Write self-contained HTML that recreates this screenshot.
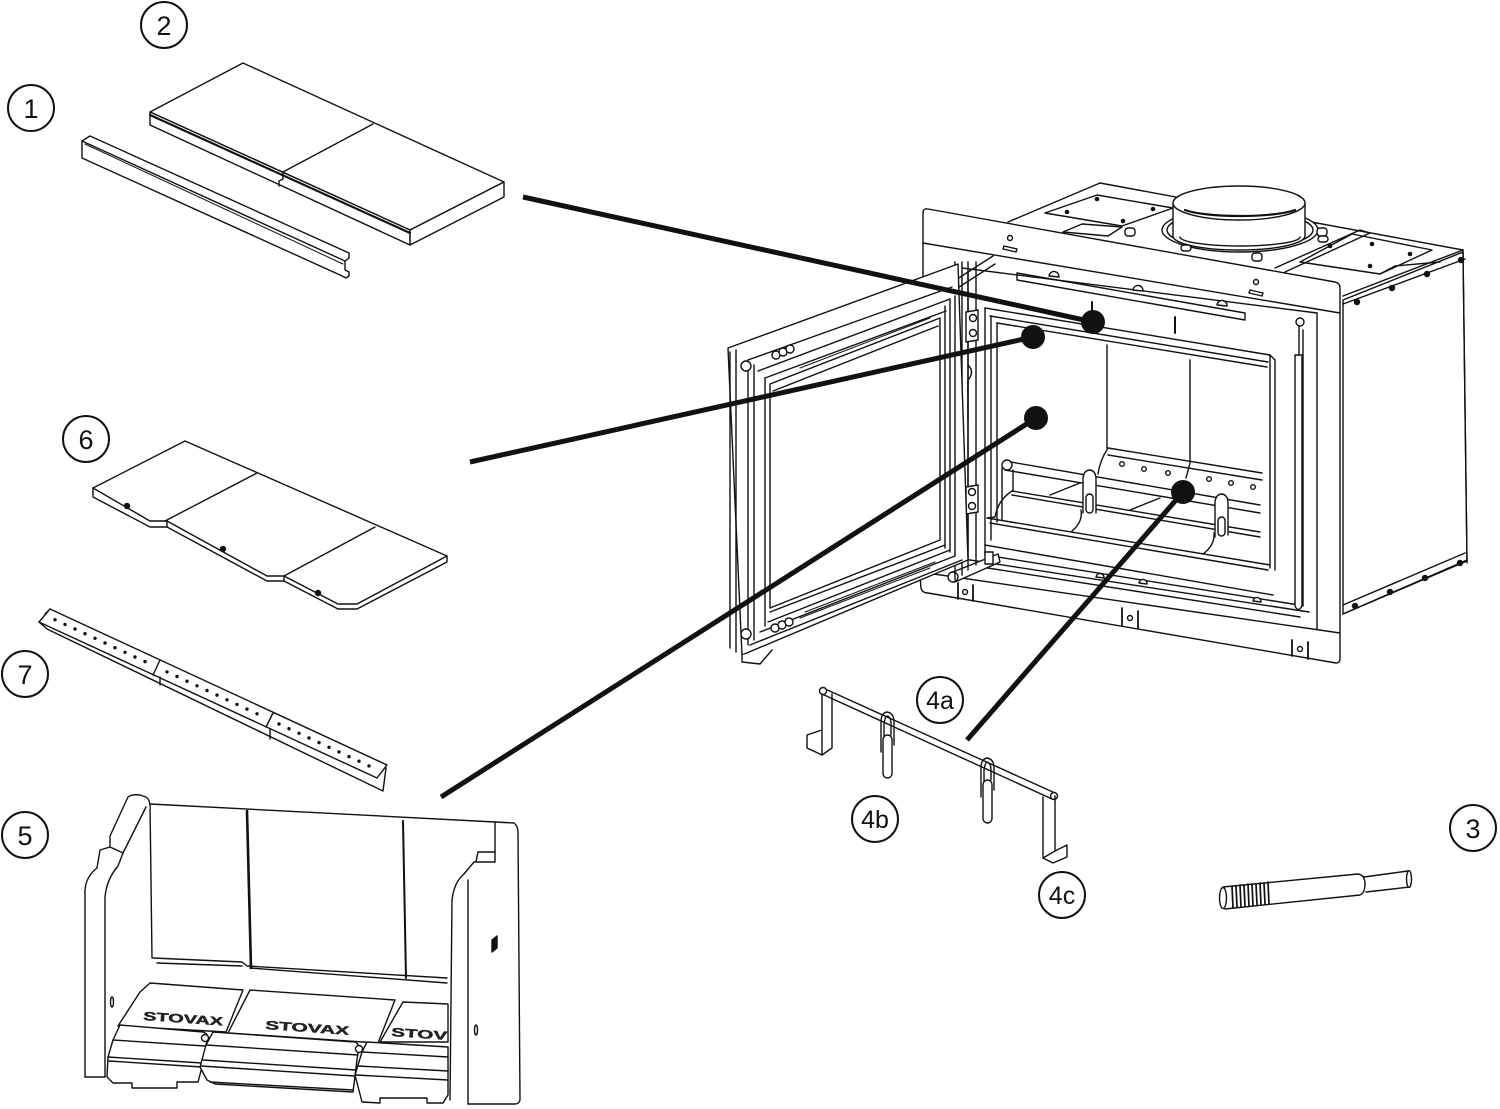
<!DOCTYPE html>
<html><head><meta charset="utf-8">
<style>html,body{margin:0;padding:0;background:#fff}svg{display:block}</style>
</head>
<body>
<svg width="1500" height="1109" viewBox="0 0 1500 1109" xmlns="http://www.w3.org/2000/svg">
<rect width="1500" height="1109" fill="#fff"/>
<g fill="none" stroke="#111" stroke-width="1.4" stroke-linejoin="round" stroke-linecap="round">

<!-- ===== Part 2 : board ===== -->
<polygon points="150,112 243,63 504,182 410,230" fill="#fff"/>
<polygon points="150,112 410,230 410,245 150,125" fill="#fff"/>
<polygon points="410,230 504,182 504,197 410,245" fill="#fff"/>
<line x1="150" y1="115" x2="410" y2="233" stroke-width="2.2"/>
<line x1="373" y1="124" x2="283" y2="172"/>
<path d="M283,172 L283,179 L279,181 L279,186"/>

<!-- ===== Part 1 : channel ===== -->
<path d="M82,141 L90,136 L349,253 L349,258" fill="#fff"/>
<path d="M82,141 L345,261 L349,258"/>
<path d="M85,144 L343,264" stroke-width="1"/>
<path d="M82,141 L82,158 L340,275"/>
<path d="M345,261 L345,270 L349,272 L349,276 L346,278 L340,275"/>

<!-- ===== Part 6 : baffle plates ===== -->
<polygon points="93,488 185,441 447,556 357,604 338,604 284,576 267,576 167,521 150,521" fill="#fff"/>
<path d="M93,488 L93,497 L150,527 L167,527 L167,521"/>
<path d="M167,527 L267,581 L284,581 L284,576"/>
<path d="M284,581 L338,609 L357,609 L447,562 L447,556"/>
<line x1="257" y1="473" x2="165" y2="521"/>
<line x1="375" y1="527" x2="284" y2="576"/>
<circle cx="127" cy="506" r="2.5" fill="#111"/>
<circle cx="223" cy="549" r="2.5" fill="#111"/>
<circle cx="318" cy="593" r="2.5" fill="#111"/>

<!-- ===== Part 7 : strip ===== -->
<polygon points="50,609 387,765 377,778 39,622" fill="#fff"/>
<path d="M39,622 L47,629 L383,791 L386,768"/>
<path d="M45,614 L50,609" />
<line x1="160" y1="660" x2="153" y2="675"/>
<line x1="273" y1="713" x2="266" y2="727"/>
<line x1="160" y1="677" x2="160" y2="685"/>
<line x1="270" y1="729" x2="270" y2="739"/>
<g fill="#111" stroke="none">
<circle cx="55" cy="619.7" r="1.7"/><circle cx="65" cy="624.4" r="1.7"/><circle cx="75" cy="629" r="1.7"/><circle cx="85" cy="633.7" r="1.7"/><circle cx="95" cy="638.3" r="1.7"/><circle cx="105" cy="643" r="1.7"/><circle cx="115" cy="647.7" r="1.7"/><circle cx="125" cy="652.3" r="1.7"/><circle cx="135" cy="657" r="1.7"/><circle cx="145" cy="661.6" r="1.7"/>
<circle cx="167" cy="671.9" r="1.7"/><circle cx="177" cy="676.5" r="1.7"/><circle cx="187" cy="681.2" r="1.7"/><circle cx="197" cy="685.8" r="1.7"/><circle cx="207" cy="690.5" r="1.7"/><circle cx="217" cy="695.1" r="1.7"/><circle cx="227" cy="699.8" r="1.7"/><circle cx="237" cy="704.4" r="1.7"/><circle cx="247" cy="709.1" r="1.7"/><circle cx="257" cy="713.8" r="1.7"/>
<circle cx="279" cy="724" r="1.7"/><circle cx="289" cy="728.7" r="1.7"/><circle cx="299" cy="733.3" r="1.7"/><circle cx="309" cy="738" r="1.7"/><circle cx="319" cy="742.6" r="1.7"/><circle cx="329" cy="747.3" r="1.7"/><circle cx="339" cy="751.9" r="1.7"/><circle cx="349" cy="756.6" r="1.7"/><circle cx="359" cy="761.2" r="1.7"/><circle cx="369" cy="765.9" r="1.7"/>
</g>

<!-- ===== Part 5 : firebrick set ===== -->
<path d="M150,804 L495,822"/>
<path d="M150,804 L152,958"/>
<line x1="247" y1="811" x2="251" y2="968" stroke-width="2.6"/>
<line x1="403" y1="821" x2="406" y2="978" stroke-width="2"/>
<path d="M153,958 L242,962 L247,966 L447,978"/>
<path d="M157,963 L242,966 M250,968 L447,983"/>
<!-- left side panel -->
<path d="M85,1077 L85,895 Q84,878 97,868 L100,850 L110,847 L110,836 L128,797 Q132,794 140,795 L146,797 Q150,800 150,806" fill="#fff"/>
<path d="M105,1077 L105,898 Q106,880 118,866 L123,853 L110,847"/>
<path d="M123,853 L146,807"/>
<path d="M85,1077 L105,1077"/>
<ellipse cx="112" cy="1002" rx="1.5" ry="5"/>
<!-- right side panel -->
<path d="M495,822 L514,823 Q518,826 518,832 L520,1100 Q519,1104 515,1104 L468,1104" fill="none"/>
<path d="M450,1100 L452,900 Q454,882 464,874 L474,862 L495,862 L495,822"/>
<path d="M468,880 L468,1104"/>
<path d="M476,862 L478,852 L495,852"/>
<ellipse cx="476" cy="1030" rx="1.5" ry="5"/>
<path d="M492,940 L497,936 L497,948 L492,952 Z" fill="#111"/>
<!-- hearth bricks -->
<path d="M150,983 L243,990 L226,1032 L118,1026 L140,992 Z" fill="#fff"/>
<polygon points="250,990 395,1000 378,1043 228,1033" fill="#fff"/>
<polygon points="403,1002 448,1004 448,1042 380,1042" fill="#fff"/>
<!-- front bricks -->
<path d="M120,1025 L203,1032 Q209,1034 207,1040 L202,1067 L198,1082 L177,1082 L177,1088 L132,1088 L132,1083 L113,1083 L107,1077 L108,1057 L113,1040 Z" fill="#fff"/>
<path d="M113,1040 L205,1046 M108,1057 L202,1063 M109,1061 L202,1067"/>
<path d="M213,1032 L355,1042 Q361,1045 358,1052 L353,1092 L215,1084 L207,1080 L200,1067 L206,1045 Z" fill="#fff"/>
<path d="M206,1045 L358,1055 M203,1060 L356,1070 M201,1066 L355,1076 M210,1082 L353,1090"/>
<path d="M367,1042 L448,1047 L448,1095 L443,1103 L427,1103 L427,1098 L380,1098 L380,1103 L362,1102 L355,1075 L362,1052 Z" fill="#fff"/>
<path d="M362,1052 L448,1057 M358,1066 L448,1071 M356,1075 L448,1080"/>
<circle cx="205" cy="1038" r="3.5" fill="#fff"/>
<circle cx="359" cy="1049" r="3.5" fill="#fff"/>

<!-- ===== Part 4 : log retainer ===== -->
<path d="M823,688 L1055,793"/>
<path d="M822,694 L1052,799"/>
<circle cx="823" cy="691" r="3.5" fill="#fff"/>
<circle cx="1054" cy="796" r="3.5" fill="#fff"/>
<path d="M822,730 L807,735 L807,748 L822,755 L832,748 L832,694"/>
<path d="M822,694 L822,755"/>
<path d="M1043,797 L1043,858 L1053,863 L1067,857 L1067,845 L1055,851 L1055,796"/>
<path d="M1043,858 L1055,851"/>
<path d="M881,752 L881,722 Q881,713 887,712 Q894,713 894,722 L894,745"/>
<path d="M884,748 L884,724 Q885,717 887,716 Q891,717 891,724 L891,735"/>
<rect x="883" y="735" width="9" height="43" rx="4.5" fill="#fff"/>
<path d="M981,797 L981,768 Q981,759 987,758 Q994,759 994,768 L994,790"/>
<path d="M984,792 L984,770 Q985,763 987,762 Q991,763 991,770 L991,780"/>
<rect x="983" y="780" width="9" height="43" rx="4.5" fill="#fff"/>

<!-- ===== Part 3 : tool ===== -->
<path d="M1223,887 L1358,874 Q1365,875 1365,884 Q1365,893 1360,895 L1225,909" fill="#fff"/>
<ellipse cx="1223" cy="898" rx="3.5" ry="10.5" fill="#fff"/>
<path d="M1364,877 L1408,871 L1410,887 L1366,892"/>
<ellipse cx="1409" cy="879" rx="2.5" ry="8.3" fill="#fff"/>
<g stroke-width="1.7">
<path d="M1232,886 L1233,908 M1236,886 L1237,907 M1240,885 L1241,907 M1244,885 L1245,906 M1248,884 L1249,906 M1252,884 L1253,906 M1256,884 L1257,905 M1260,883 L1261,905 M1264,883 L1265,904 M1268,882 L1269,904"/>
</g>

<!-- ===== STOVE ===== -->
<polygon points="1343,300 1463,252 1467,561 1343,614" fill="#fff"/>
<path d="M1343,296 L1463,250 M1343,304 L1465,259 M1343,605 L1465,553 M1343,614 L1467,560"/>
<path d="M1463,250 L1467,563"/>
<g fill="#111" stroke="none">
<circle cx="1357" cy="302" r="3.2"/><circle cx="1392" cy="288" r="3.2"/><circle cx="1427" cy="274" r="3.2"/><circle cx="1461" cy="260" r="3.2"/>
<circle cx="1355" cy="606" r="3.2"/><circle cx="1390" cy="592" r="3.2"/><circle cx="1425" cy="578" r="3.2"/><circle cx="1460" cy="563" r="3.2"/>
</g>
<path d="M1008,222 L1100,183 L1463,250"/>
<polygon points="1045,213 1097,195 1173,208 1122,226" />
<polygon points="1063,232 1082,224 1122,227 1108,236"/>
<g fill="#111" stroke="none">
<circle cx="1097" cy="199" r="2.3"/><circle cx="1067" cy="212" r="2.3"/><circle cx="1153" cy="209" r="2.3"/><circle cx="1123" cy="221" r="2.3"/>
<circle cx="1330" cy="246" r="2.3"/><circle cx="1372" cy="244" r="2.3"/><circle cx="1410" cy="254" r="2.3"/><circle cx="1370" cy="266" r="2.3"/>
</g>
<polygon points="1300,262 1352,234 1432,250 1380,274"/>
<path d="M1275,268 L1360,230 L1370,233 L1285,272"/>
<path d="M1380,274 L1395,266 L1440,262"/>
<ellipse cx="1240" cy="230" rx="78" ry="22" fill="#fff"/>
<ellipse cx="1240" cy="230" rx="73" ry="19"/>
<path d="M1173,203 L1173,236 A66,14 0 0 0 1305,236 L1305,203" fill="#fff"/>
<ellipse cx="1239" cy="203" rx="66" ry="17" fill="#fff"/>
<path d="M1185,210 A60,10 0 0 0 1295,210" stroke-width="2.2"/>
<path d="M1180,237 A60,9 0 0 0 1300,237"/>
<g fill="#fff">
<rect x="1125" y="228" width="10" height="8" rx="3"/>
<rect x="1252" y="253" width="10" height="8" rx="3"/>
<rect x="1317" y="228" width="10" height="8" rx="3"/>
<rect x="1318" y="236" width="10" height="6" rx="3"/>
<rect x="1181" y="245" width="10" height="6" rx="3"/>
</g>
<path d="M923,213 Q923,208 928,209 L1335,282 Q1340,283 1340,288 L1340,313 L923,243 Z" fill="#fff"/>
<circle cx="1010" cy="238" r="2.5"/>
<path d="M1004,246 L1017,249 L1016,252 L1003,249 Z"/>
<circle cx="1256" cy="282" r="2.5"/>
<path d="M1250,290 L1263,293 L1262,296 L1249,293 Z"/>
<path d="M923,243 L923,290"/>
<path d="M962,268 L1317,313"/>
<path d="M968,272 L968,560"/>
<path d="M1017,273 L1245,313 M1017,280 L1245,320 M1017,273 L1017,280 M1245,313 L1245,320"/>
<path d="M1049,276 A5,5 0 0 1 1059,277 Z M1133,290 A5,5 0 0 1 1143,291 Z M1217,305 A5,5 0 0 1 1227,306 Z" fill="#fff"/>
<circle cx="1300" cy="322" r="4"/>
<!-- firebox frame -->
<path d="M985,308 L1270,355 L1275,360"/>
<path d="M990,316 L1268,362"/>
<path d="M997,323 L1267,367"/>
<path d="M985,308 L985,555"/>
<path d="M991,316 L991,540"/>
<path d="M997,323 L997,522"/>
<path d="M1270,355 L1270,568 M1275,360 L1275,570"/>
<path d="M985,545 L1273,595"/>
<path d="M985,555 L1299,605"/>
<path d="M1299,327 L1299,603 M1303,330 L1303,606"/>
<path d="M1317,313 L1317,632 M1340,313 L1340,633"/>
<path d="M1295,355 L1295,606 Q1298,613 1302,606 L1302,355 Z" fill="#fff"/>
<path d="M1092,302 L1092,313 M1175,317 L1175,333" stroke-width="2"/>
<!-- firebox interior -->
<path d="M1107,345 L1107,448 M1190,360 L1190,463 L1186,478"/>
<path d="M1108,448 Q1100,460 1098,474"/>
<path d="M1108,448 L1262,473 M1108,455 L1262,480"/>
<g>
<circle cx="1122" cy="464" r="2.3"/><circle cx="1144" cy="469" r="2.3"/><circle cx="1168" cy="473" r="2.3"/>
<circle cx="1209" cy="479" r="2.3"/><circle cx="1231" cy="483" r="2.3"/><circle cx="1253" cy="487" r="2.3"/>
</g>
<!-- grate front face -->
<path d="M1012,491 Q998,500 995,517 L987,518 L1270,565 M990,523 L1268,570"/>
<path d="M1012,491 L1260,532 M1012,495 L1260,537"/>
<path d="M1050,495 L1080,483 M1130,510 L1160,498"/>
<path d="M1081,510 Q1083,522 1072,531 M1214,533 Q1215,545 1203,554"/>
<!-- retainer bar -->
<path d="M1005,461 L1260,505 M1005,470 L1260,513" fill="none"/>
<path d="M1002,468 L1002,520 M1013,470 L1013,491"/>
<circle cx="1007" cy="465" r="5" fill="#fff"/>
<path d="M1083,513 L1083,478 Q1084,470 1090,470 Q1096,471 1096,479 L1096,513" fill="#fff"/>
<rect x="1086" y="494" width="7" height="19" rx="3.5" fill="#fff"/>
<path d="M1215,537 L1215,502 Q1216,494 1222,494 Q1228,495 1228,503 L1228,535" fill="#fff"/>
<rect x="1218" y="517" width="7" height="19" rx="3.5" fill="#fff"/>
<!-- lower rail -->
<path d="M957,558 L1309,612"/>
<path d="M975,566 L1300,617"/>
<path d="M1096,577 A4,4 0 0 1 1104,578 Z M1139,583 A4,4 0 0 1 1147,584 Z M1253,601 A4,4 0 0 1 1261,602 Z" fill="#fff"/>
<!-- bottom plate -->
<path d="M920,572 L1340,633 L1340,659 Q1340,663 1336,663 L928,593 Q922,593 921,588 L920,576 Z" fill="#fff"/>
<path d="M958,583 L958,599 M973,585 L973,601" stroke-width="1.8"/>
<circle cx="965" cy="592" r="2.5"/>
<path d="M1122,608 L1122,625 M1138,611 L1138,628" stroke-width="1.8"/>
<circle cx="1130" cy="618" r="2.5"/>
<path d="M1292,640 L1292,656 M1308,642 L1308,659" stroke-width="1.8"/>
<circle cx="1300" cy="649" r="2.5"/>
<path d="M953,572 L998,554 L1000,562 L955,582" fill="#fff"/>
<circle cx="953" cy="577" r="5" fill="#fff"/>
<rect x="985" y="552" width="8" height="12" fill="#fff"/>
<!-- hinge column -->
<path d="M955,262 L955,580 M962,262 L962,575 M968,262 L968,570 M976,262 L976,565" fill="none"/>
<path d="M966,312 L978,310 L978,340 L966,342 Z M966,487 L978,485 L978,512 L966,514 Z" fill="#fff"/>
<circle cx="973" cy="318" r="3.5"/><circle cx="973" cy="333" r="3.5"/>
<circle cx="972" cy="492" r="3.5"/><circle cx="972" cy="506" r="3.5"/>
<path d="M968,365 Q975,372 968,380 L968,420"/>
<path d="M940,290 L993,256 M945,296 L995,264" />
<circle cx="950" cy="286" r="5" fill="#fff"/>

<!-- ===== DOOR ===== -->
<polygon points="728,348 958,264 968,560 742,655" fill="#fff"/>
<path d="M730,352 L730,648 M736,350 L736,652 M748,360 L748,645 M754,365 L754,640 M765,378 L765,626"/>
<path d="M748,360 L952,287 M758,371 L950,299 M765,378 L946,311"/>
<polygon points="770,384 940,318 940,540 770,608" fill="#fff"/>
<path d="M773,391 L938,326"/>
<path d="M770,612 L945,545 M768,622 L950,550 M760,632 L955,556 M750,645 L962,560"/>
<path d="M945,306 L945,548 M950,300 L950,552 M955,296 L955,556"/>
<path d="M742,655 L742,662 L760,664 L772,650" fill="#fff"/>
<g fill="#fff">
<circle cx="776" cy="355" r="4"/><circle cx="783" cy="352" r="4"/><circle cx="790" cy="349" r="4"/>
<circle cx="746" cy="366" r="5"/>
<circle cx="775" cy="628" r="4"/><circle cx="782" cy="625" r="4"/><circle cx="789" cy="622" r="4"/>
<circle cx="746" cy="634" r="5"/>
</g>
<path d="M800,618 L930,568 M805,612 L935,562" stroke-width="1"/>
<path d="M800,368 L930,318" stroke-width="1"/>
</g>

<!-- ===== connector lines ===== -->
<g stroke="#111" stroke-width="5" stroke-linecap="butt" fill="none">
<line x1="523" y1="197" x2="1093" y2="322"/>
<line x1="470" y1="462" x2="1033" y2="337"/>
<line x1="441" y1="797" x2="1036" y2="418"/>
<line x1="967" y1="740" x2="1183" y2="492"/>
</g>
<g fill="#111">
<circle cx="1093" cy="322" r="12"/>
<circle cx="1033" cy="337" r="12"/>
<circle cx="1036" cy="418" r="12"/>
<circle cx="1183" cy="492" r="12"/>
</g>

<!-- ===== STOVAX labels ===== -->
<g font-family="'Liberation Sans', sans-serif" font-weight="bold" font-size="12" fill="#222" stroke="#222" stroke-width="0.4">
<text x="143" y="1020" textLength="80" lengthAdjust="spacingAndGlyphs" transform="rotate(4 143 1020)">STOVAX</text>
<text x="265" y="1029" textLength="84" lengthAdjust="spacingAndGlyphs" transform="rotate(4 265 1029)">STOVAX</text>
<text x="391" y="1036" textLength="56" lengthAdjust="spacingAndGlyphs" transform="rotate(4 391 1036)">STOV</text>
</g>

<!-- ===== number labels ===== -->
<g fill="#fff" stroke="#111" stroke-width="2">
<circle cx="164" cy="25" r="23"/>
<circle cx="31" cy="108" r="23"/>
<circle cx="86" cy="439" r="23"/>
<circle cx="25" cy="674" r="23"/>
<circle cx="25" cy="835" r="23"/>
<circle cx="940" cy="700" r="23"/>
<circle cx="875" cy="819" r="23"/>
<circle cx="1062" cy="895" r="23"/>
<circle cx="1473" cy="828" r="23"/>
</g>
<g font-family="'Liberation Sans', sans-serif" font-size="27" fill="#111" text-anchor="middle">
<text x="164" y="35">2</text>
<text x="31" y="118">1</text>
<text x="86" y="449">6</text>
<text x="25" y="684">7</text>
<text x="25" y="845">5</text>
<text x="1473" y="838">3</text>
</g>
<g font-family="'Liberation Sans', sans-serif" font-size="25" fill="#111" text-anchor="middle">
<text x="940" y="709">4a</text>
<text x="875" y="828">4b</text>
<text x="1062" y="904">4c</text>
</g>
</svg>
</body>
</html>
